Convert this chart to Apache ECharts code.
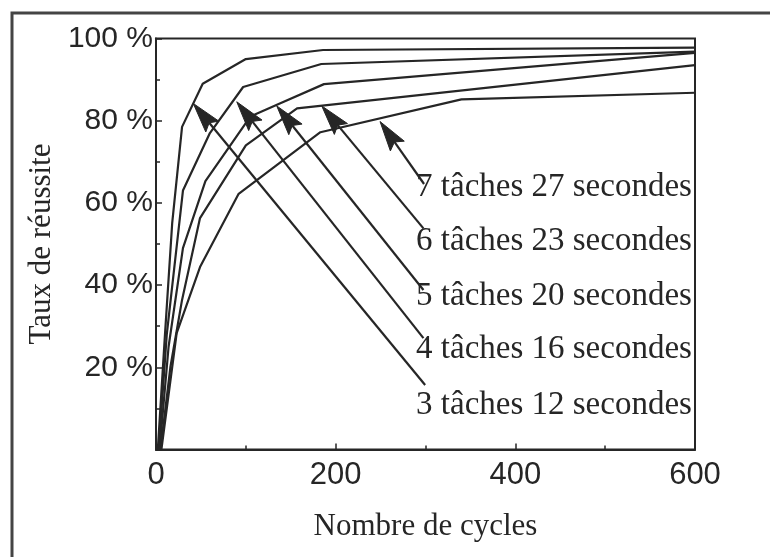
<!DOCTYPE html>
<html>
<head>
<meta charset="utf-8">
<script src="https://cdn.jsdelivr.net/npm/echarts@6/dist/echarts.min.js"></script>
<style>
html,body{margin:0;padding:0;background:#fff;}
#chart{width:770px;height:557px;}
</style>
</head>
<body>
<div id="chart"></div>
<script>
// Series data: [cycles, success %]
const taches3 = [[2,0],[10,28],[18,55],[29,78.5],[52,89],[100,95],[186,97.2],[600,97.8]];
const taches4 = [[3,0],[12,28],[30,63],[60,77],[97,88.2],[184,93.8],[600,96.8]];
const taches5 = [[4,0],[14,25],[30,49],[55,65.3],[105,81],[134,83.8],[187,88.9],[600,96.5]];
const taches6 = [[5,0],[16,20],[29,36.4],[49,56.3],[100,74],[157,83],[600,93.5]];
const taches7 = [[6,0],[23,28.3],[49,44.4],[92,62.2],[183,77.2],[340,85.2],[600,86.8]];

const labelNames = ['7 tâches 27 secondes','6 tâches 23 secondes','5 tâches 20 secondes','4 tâches 16 secondes','3 tâches 12 secondes'];
const labelPos = [[289.5,63.9],[289.5,50.7],[289.5,37.3],[289.5,24.3],[289.5,10.8]];
const arrowTips = [[249.4,79.8],[184.5,83.6],[134.4,83.6],[89.9,84.6],[41.5,84.2]];
const arrowTails = [[298.4,64.6],[297.7,53.8],[297.7,38.8],[297.7,27.1],[299.6,15.7]];

const xTicks = [0,200,400,600];
const yTicks = [20,40,60,80,100];

const ink = '#262626';
const serif = '"Liberation Serif","Times New Roman",serif';
const sans = '"Liberation Sans",Arial,sans-serif';

const chart = echarts.init(document.getElementById('chart'));
const lineStyle = {color: ink, width: 2.2};
function curve(name, data){
  return {name, type:'line', data, symbol:'none', lineStyle, z:3, silent:true};
}
chart.setOption({
  animation:false,
  backgroundColor:'#fff',
  graphic:[{type:'polyline', shape:{points:[[12,557],[12,13],[770,13]]}, style:{stroke:'#444', lineWidth:3, fill:null}}],
  grid:{left:156,right:75,top:38.5,bottom:107.5,show:true,borderColor:ink,borderWidth:2,backgroundColor:'transparent'},
  xAxis:{
    type:'value', min:0, max:600, interval:200,
    name:'Nombre de cycles', nameLocation:'middle', nameGap:62,
    nameTextStyle:{fontFamily:serif, fontSize:31, color:ink},
    axisLine:{lineStyle:{color:ink,width:2}},
    axisTick:{inside:true,length:6,lineStyle:{color:ink,width:1.5}},
    minorTick:{show:true,splitNumber:2,length:4,lineStyle:{color:ink,width:1.5}},
    splitLine:{show:false},
    axisLabel:{fontFamily:sans,fontSize:31,color:ink,margin:10,
      formatter:v=>xTicks.indexOf(v)>=0?String(v):''}
  },
  yAxis:{
    type:'value', min:0, max:100, interval:20,
    name:'Taux de réussite', nameLocation:'middle', nameGap:90, nameRotate:90,
    nameTextStyle:{fontFamily:serif, fontSize:31, color:ink},
    axisLine:{lineStyle:{color:ink,width:2}},
    axisTick:{inside:true,length:6,lineStyle:{color:ink,width:1.5}},
    minorTick:{show:true,splitNumber:2,length:4,lineStyle:{color:ink,width:1.5}},
    splitLine:{show:false},
    axisLabel:{fontFamily:sans,fontSize:30,color:ink,margin:3,
      formatter:v=>yTicks.indexOf(v)>=0?(v+' %'):''}
  },
  series:[
    curve('3 tâches',taches3),
    curve('4 tâches',taches4),
    curve('5 tâches',taches5),
    curve('6 tâches',taches6),
    curve('7 tâches',taches7),
    {
      type:'custom', silent:true, z:4,
      data: arrowTips.map((t,i)=>[arrowTails[i][0],arrowTails[i][1],t[0],t[1]]),
      encode:{x:[0,2], y:[1,3]},
      renderItem:(params, api)=>{
        const p0 = api.coord([api.value(0), api.value(1)]);
        const p1 = api.coord([api.value(2), api.value(3)]);
        const dx = p1[0]-p0[0], dy = p1[1]-p0[1];
        const len = Math.sqrt(dx*dx+dy*dy);
        const ux = dx/len, uy = dy/len;
        const nx = -uy, ny = ux;
        const L = 30, W = 8.5, notch = 5;
        const base = [p1[0]-ux*L, p1[1]-uy*L];
        const mid = [p1[0]-ux*(L-notch), p1[1]-uy*(L-notch)];
        return {type:'group', children:[
          {type:'line', shape:{x1:p0[0],y1:p0[1],x2:mid[0],y2:mid[1]}, style:{stroke:ink,lineWidth:2.2}},
          {type:'polygon', shape:{points:[p1,[base[0]+nx*W,base[1]+ny*W],mid,[base[0]-nx*W,base[1]-ny*W]]}, style:{fill:ink,stroke:ink,lineWidth:1}}
        ]};
      }
    },
    {
      type:'custom', silent:true, z:5,
      data: labelPos.map((p,i)=>[p[0],p[1],i]),
      encode:{x:0,y:1},
      renderItem:(params, api)=>{
        const p = api.coord([api.value(0), api.value(1)]);
        return {type:'text', x:p[0], y:p[1], style:{text:labelNames[api.value(2)], fontFamily:serif, fontSize:33, fill:ink, textAlign:'left', textVerticalAlign:'middle'}};
      }
    }
  ]
});
</script>
</body>
</html>
